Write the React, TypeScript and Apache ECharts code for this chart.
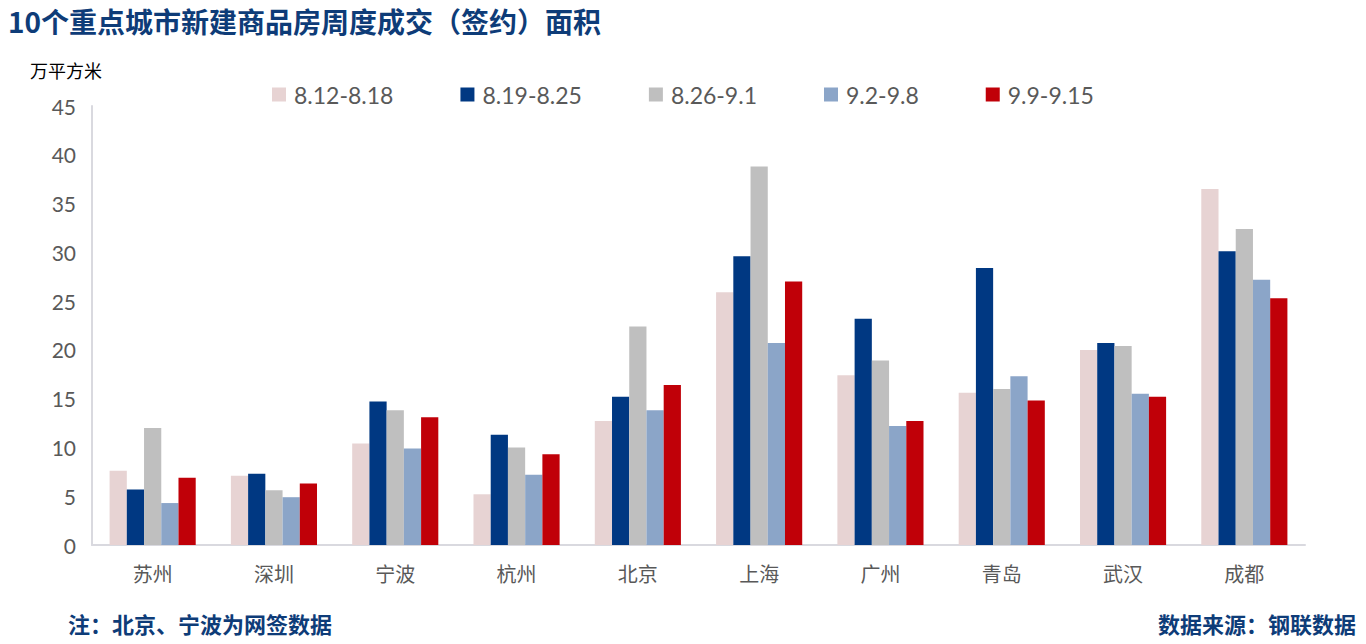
import React, { useEffect, useRef } from "react";
import * as echarts from "echarts";

const cities = ["苏州", "深圳", "宁波", "杭州", "北京", "上海", "广州", "青岛", "武汉", "成都"];
const weeks = ["8.12-8.18", "8.19-8.25", "8.26-9.1", "9.2-9.8", "9.9-9.15"];
const w1 = [7.6, 7.1, 10.4, 5.2, 12.7, 25.9, 17.4, 15.6, 20.0, 36.5];
const w2 = [5.7, 7.3, 14.7, 11.3, 15.2, 29.6, 23.2, 28.4, 20.7, 30.1];
const w3 = [12.0, 5.6, 13.8, 10.0, 22.4, 38.8, 18.9, 16.0, 20.4, 32.4];
const w4 = [4.3, 4.9, 9.9, 7.2, 13.8, 20.7, 12.2, 17.3, 15.5, 27.2];
const w5 = [6.9, 6.3, 13.1, 9.3, 16.4, 27.0, 12.7, 14.8, 15.2, 25.3];
const colors = ["#E7D3D3", "#003882", "#BFBFBF", "#8BA5C8", "#C00008"];
const seriesValues = [w1, w2, w3, w4, w5];

export default function App() {
  const ref = useRef<HTMLDivElement>(null);
  useEffect(() => {
    const chart = echarts.init(ref.current!, null, { renderer: "svg" });
    chart.setOption({
      animation: false,
      backgroundColor: "#fff",
      textStyle: { fontFamily: "Lato, 'Noto Sans CJK SC', sans-serif" },
      grid: { left: 92, right: 61, top: 106, bottom: 99, containLabel: false },
      legend: {
        data: weeks,
        left: 267,
        top: 78,
        itemWidth: 14,
        itemHeight: 14,
        itemGap: 67,
        icon: "rect",
        textStyle: { fontSize: 23, color: "#595959", fontFamily: "Lato, sans-serif", padding: [0, 0, 0, 3] },
      },
      xAxis: {
        type: "category",
        data: cities,
        axisLine: { lineStyle: { color: "#D9D9DF", width: 2 } },
        axisTick: { show: false },
        axisLabel: { fontSize: 20, color: "#595959", margin: 18, fontFamily: "'Noto Sans CJK SC', sans-serif" },
      },
      yAxis: {
        type: "value",
        min: 0,
        max: 45,
        interval: 5,
        splitLine: { show: false },
        axisLine: { show: true, lineStyle: { color: "#D9D9DF", width: 2 } },
        axisTick: { show: false },
        axisLabel: { fontSize: 21, color: "#595959", margin: 16, fontFamily: "Lato, sans-serif" },
      },
      series: weeks.map((w, i) => ({
        name: w,
        type: "bar",
        data: seriesValues[i],
        itemStyle: { color: colors[i] },
        barGap: "0%",
        barCategoryGap: "29%",
      })),
      graphic: [
        {
          type: "text",
          left: 8,
          top: 7,
          style: {
            text: "10个重点城市新建商品房周度成交（签约）面积",
            fontSize: 28,
            fontWeight: "bold",
            fill: "#0E3C78",
            fontFamily: "'Noto Sans CJK SC', sans-serif",
          },
        },
        {
          type: "text",
          left: 30,
          top: 61,
          style: {
            text: "万平方米",
            fontSize: 18,
            fill: "#000",
            fontFamily: "'Noto Sans CJK SC', sans-serif",
          },
        },
        {
          type: "text",
          left: 68,
          top: 612,
          style: {
            text: "注：北京、宁波为网签数据",
            fontSize: 22,
            fontWeight: "bold",
            fill: "#0E3C78",
            fontFamily: "'Noto Sans CJK SC', sans-serif",
          },
        },
        {
          type: "text",
          right: 10,
          top: 612,
          style: {
            text: "数据来源：钢联数据",
            fontSize: 22,
            fontWeight: "bold",
            fill: "#0E3C78",
            fontFamily: "'Noto Sans CJK SC', sans-serif",
          },
        },
      ],
    });
    return () => chart.dispose();
  }, []);
  return <div ref={ref} style={{ width: 1366, height: 644, position: "absolute", left: 0, top: 0 }} />;
}
